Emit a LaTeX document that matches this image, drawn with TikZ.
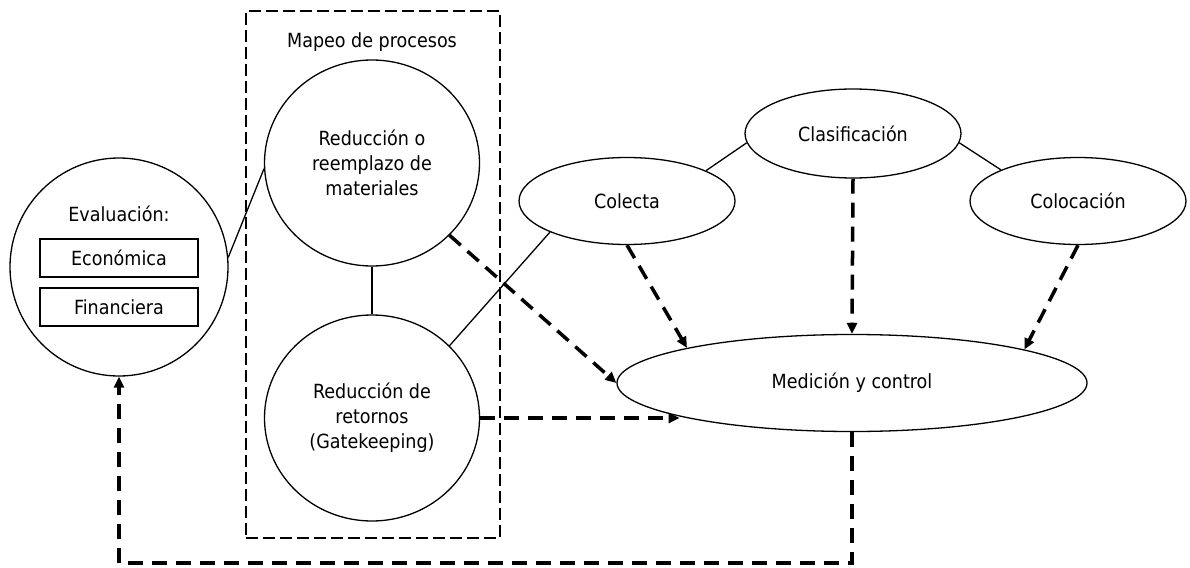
\documentclass[tikz,border=0pt]{standalone}
\usepackage{fontspec}
\setmainfont{DejaVu Sans Condensed}
\usetikzlibrary{shapes.geometric,arrows.meta}
\begin{document}
\begin{tikzpicture}[x=1pt,y=-1pt,
  font=\fontsize{19.5}{25}\selectfont,
  solid line/.style={line width=1.3pt},
  ell/.style={draw, ellipse, line width=1.3pt, inner sep=0pt, align=center},
  smallbox/.style={draw, rectangle, line width=1.3pt, minimum width=158pt, minimum height=38pt, inner sep=0pt},
  darrow/.style={line width=3.5pt, dash pattern=on 15pt off 9pt, -{Triangle[length=11pt,width=10pt]}},
  groupbox/.style={draw, rectangle, line width=1.5pt, dash pattern=on 12pt off 5pt, minimum width=254pt, minimum height=527pt, inner sep=0pt}
]
\useasboundingbox (0,0) rectangle (1190,567);

% group box
\node[groupbox] (mapeo) at (373,274.5) {};
\node (mapeotitle) at (372,42) {Mapeo de procesos};

% evaluation circle
\node[draw, circle, line width=1.3pt, minimum size=218pt, inner sep=0pt] (ev) at (119,267) {};
\node (evtitle) at (119,214) {Evaluación:};
\node[smallbox] (eco) at (119,258) {Económica};
\node[smallbox] (fin) at (119,307) {Financiera};

% process circles
\node[ell, minimum width=215pt, minimum height=206pt] (red) at (372,163) {Reducción o\\reemplazo de\\materiales};
\node[ell, minimum width=215pt, minimum height=206pt] (gk) at (372,418) {Reducción de\\retornos\\(Gatekeeping)};

% right ellipses
\node[ell, minimum width=216pt, minimum height=87pt] (col) at (627,201) {Colecta};
\node[ell, minimum width=216pt, minimum height=89pt] (cla) at (853,133.5) {Clasificación};
\node[ell, minimum width=216pt, minimum height=87pt] (coc) at (1078,201) {Colocación};
\node[ell, minimum width=470pt, minimum height=97pt] (md) at (852,383) {Medición y control};

% solid connectors
\draw[solid line] (ev.5) -- (red.183);
\draw[solid line] (red.south) -- (gk.north);
\draw[solid line] (col.202.6) -- (gk.43.5);
\draw[solid line] (col.21.9) -- (cla.185);
\draw[solid line] (cla.-5) -- (coc.158.1);

% dashed arrows
\draw[darrow] (red.-43) -- (md.west);
\draw[darrow] (col.south) -- (md.168.1);
\draw[darrow] (cla.south) -- (md.north);
\draw[darrow] (coc.south) -- (md.11.8);
\draw[darrow] (gk.east) -- (gk.east -| md.191.5);

\coordinate (fb) at (119,563);
\draw[darrow] (md.south) -- (md.south |- fb) -| (ev.south);
\end{tikzpicture}
\end{document}
